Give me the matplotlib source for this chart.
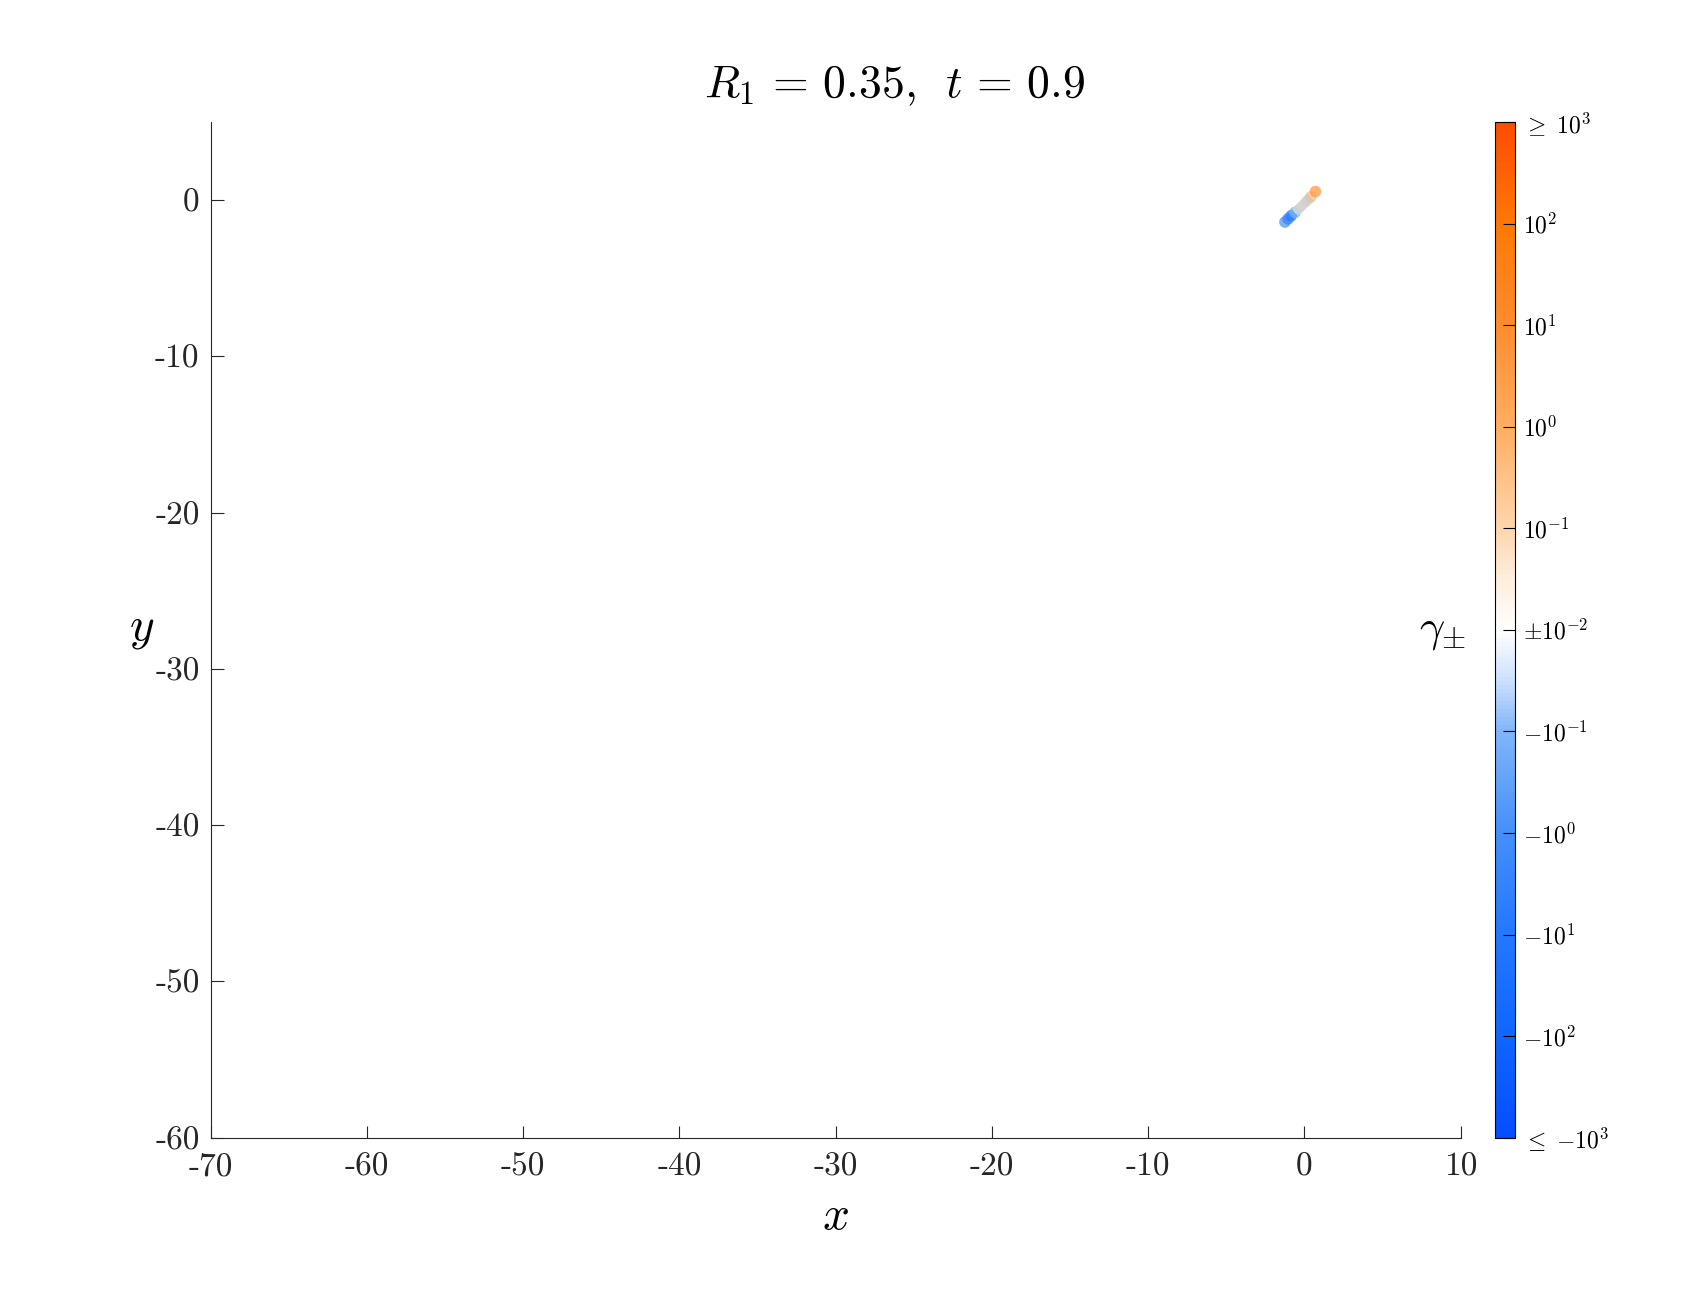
import numpy as np
import matplotlib
matplotlib.use("Agg")
import matplotlib.pyplot as plt
from matplotlib.colors import LinearSegmentedColormap, Normalize
from matplotlib.cm import ScalarMappable

plt.rcParams['font.family'] = 'cmr10'
plt.rcParams['mathtext.fontset'] = 'cm'
plt.rcParams['axes.unicode_minus'] = False

# ---- data ----
x_ticks = [-70, -60, -50, -40, -30, -20, -10, 0, 10]
y_ticks = [-60, -50, -40, -30, -20, -10, 0]
cbar_ticks = [-5, -4, -3, -2, -1, 0, 1, 2, 3, 4, 5]
cbar_labels = [r'$\leq\ {-}10^3$', r'${-}10^2$', r'${-}10^1$', r'${-}10^0$', r'${-}10^{-1}$',
               r'$\pm10^{-2}$', r'$10^{-1}$', r'$10^0$', r'$10^1$', r'$10^2$', r'$\geq\ 10^3$']
# trajectory (x, y) and colour value in colourbar units
path_x = [-1.25, -1.05, -0.85, -0.6, -0.35, -0.1, 0.15, 0.4, 0.7]
path_y = [-1.4, -1.2, -1.0, -0.78, -0.55, -0.3, -0.05, 0.2, 0.55]
path_c = [-1.8, -2.4, -2.9, -1.2, 0.0, 0.0, 0.6, 1.6, 2.6]

# ---- colormap ----
anchors = [(0.0, (0.02, 0.30, 1.0)),
           (0.1, (0.06, 0.40, 1.0)),
           (0.2, (0.14, 0.47, 1.0)),
           (0.3, (0.27, 0.56, 0.98)),
           (0.4, (0.50, 0.71, 0.98)),
           (0.45, (0.80, 0.88, 1.0)),
           (0.5, (1.0, 1.0, 1.0)),
           (0.55, (1.0, 0.93, 0.86)),
           (0.6, (1.0, 0.84, 0.68)),
           (0.7, (1.0, 0.68, 0.38)),
           (0.8, (1.0, 0.55, 0.18)),
           (0.9, (1.0, 0.47, 0.02)),
           (1.0, (1.0, 0.30, 0.0))]
cmap = LinearSegmentedColormap.from_list('gam', anchors)
norm = Normalize(-5, 5)

fig = plt.figure(figsize=(16.94, 13.06), dpi=100)
ax = fig.add_axes([0.1244, 0.1289, 0.7379, 0.7777])

ax.scatter(path_x, path_y, c=path_c, cmap=cmap, norm=norm, s=70, alpha=0.75,
           edgecolors='none', zorder=3)
ax.plot(path_x[3:8], path_y[3:8], color=(0.78, 0.78, 0.78), lw=7, alpha=0.75,
        solid_capstyle='butt', zorder=4)

ax.set_xlim(-70, 10)
ax.set_ylim(-60, 5)
ax.set_xticks(x_ticks)
ax.set_xticklabels([str(v) for v in x_ticks])
ax.set_yticks(y_ticks)
ax.set_yticklabels([str(v) for v in y_ticks])
ax.spines['top'].set_visible(False)
ax.spines['right'].set_visible(False)
for s in ax.spines.values():
    s.set_linewidth(0.8)
    s.set_color('#262626')
ax.tick_params(direction='in', length=9, width=0.8, labelsize=24, colors='#262626')
ax.tick_params(axis='x', pad=11)
ax.tick_params(axis='y', pad=8)
ax.set_xlabel(r'$x$', fontsize=34, labelpad=10)
ax.set_ylabel(r'$y$', fontsize=34, rotation=0, va='center')
ax.yaxis.set_label_coords(-0.055, 0.5)
ax.set_title(r'$R_1 \,=\, 0.35,\ \, t \,=\, 0.9$', fontsize=33, pad=18, x=0.547)

cax = fig.add_axes([0.8825, 0.1289, 0.0118, 0.7777])
sm = ScalarMappable(norm=norm, cmap=cmap)
cb = fig.colorbar(sm, cax=cax)
cb.set_ticks(cbar_ticks)
cb.set_ticklabels(cbar_labels)
cb.outline.set_linewidth(0.8)
cax.tick_params(direction='in', length=9, width=0.8, labelsize=17, pad=6)
cax.yaxis.set_ticks_position('right')
fig.text(0.8515, 0.516, r'$\gamma_{\pm}$', fontsize=32, ha='center', va='center')

fig.savefig('out.png', dpi=100)
